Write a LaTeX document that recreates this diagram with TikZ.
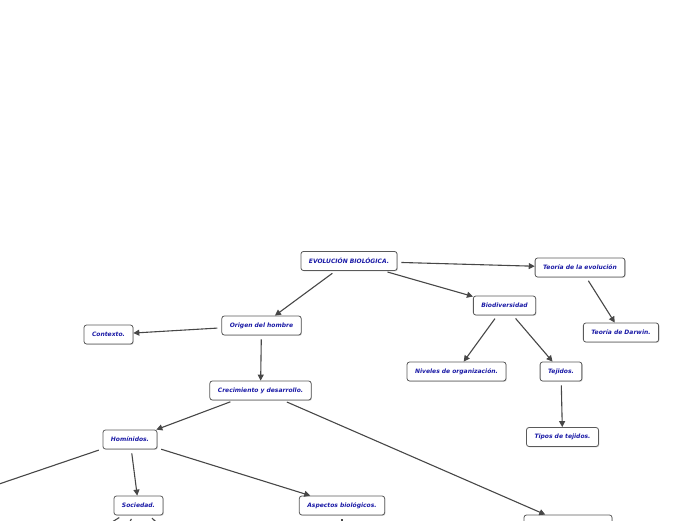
\documentclass[tikz,border=0pt]{standalone}
\usepackage{fontspec}
\setmainfont{DejaVu Sans}
\usetikzlibrary{arrows.meta,shadows}
\definecolor{txtblue}{HTML}{1A1AA6}
\definecolor{edgegray}{HTML}{474747}
\definecolor{boxgray}{HTML}{5A5A5A}
\tikzset{
  mbox/.style={draw=boxgray, line width=0.8pt, rounded corners=2.5pt, fill=white,
    minimum height=19pt, inner xsep=8pt, inner ysep=0pt,
    font=\fontsize{6}{7}\selectfont\bfseries\itshape, text=txtblue,
    drop shadow={shadow xshift=0.8pt, shadow yshift=-0.8pt, opacity=0.35, fill=gray}},
  conn/.style={draw=edgegray, line width=1.1pt, shorten <=4pt,
    -{Triangle[length=6pt,width=6pt]}},
  plain/.style={draw=edgegray, line width=1.1pt, shorten <=4pt}
}
\begin{document}
\begin{tikzpicture}[x=1pt,y=-1pt]
\useasboundingbox (0,0) rectangle (696,520);
\clip (0,0) rectangle (696,520);
\node[mbox] (evol) at (349,261) {EVOLUCIÓN BIOLÓGICA.};
\node[mbox] (teoria) at (580,267.5) {Teoría de la evolución};
\node[mbox] (bio) at (504.5,305.5) {Biodiversidad};
\node[mbox] (darwin) at (621,332.5) {Teoría de Darwin.};
\node[mbox] (ctx) at (108.5,334.5) {Contexto.};
\node[mbox] (origen) at (261.5,325.5) {Origen del hombre};
\node[mbox] (crec) at (260.5,390.5) {Crecimiento y desarrollo.};
\node[mbox] (niveles) at (456.5,371.5) {Niveles de organización.};
\node[mbox] (tej) at (561,371.5) {Tejidos.};
\node[mbox] (tipos) at (562.5,437) {Tipos de tejidos.};
\node[mbox] (homi) at (130,439.5) {Homínidos.};
\node[mbox] (soc) at (138.5,505.5) {Sociedad.};
\node[mbox] (asp) at (342,505.5) {Aspectos biológicos.};
\node[mbox, minimum width=88pt] (low) at (568,524.5) {};
\coordinate (offleft) at (-40,497.3);
\coordinate (socA) at (40,567);
\coordinate (socB) at (115,550);
\coordinate (socC) at (200,563);
\coordinate (aspA) at (342,560);

\draw[conn] (evol) -- (teoria);
\draw[conn] (evol) -- (bio);
\draw[conn] (evol) -- (origen);
\draw[conn] (teoria) -- (darwin);
\draw[conn] (bio) -- (niveles);
\draw[conn] (bio) -- (tej);
\draw[conn] (tej) -- (tipos);
\draw[conn] (origen) -- (ctx);
\draw[conn] (origen) -- (crec);
\draw[conn] (crec) -- (homi);
\draw[conn] (crec) -- (low);
\draw[plain] (homi) -- (offleft);
\draw[conn] (homi) -- (soc);
\draw[conn] (homi) -- (asp);
\draw[plain] (soc) -- (socA);
\draw[plain] (soc) -- (socB);
\draw[plain] (soc) -- (socC);
\draw[plain] (asp) -- (aspA);
\end{tikzpicture}
\end{document}
